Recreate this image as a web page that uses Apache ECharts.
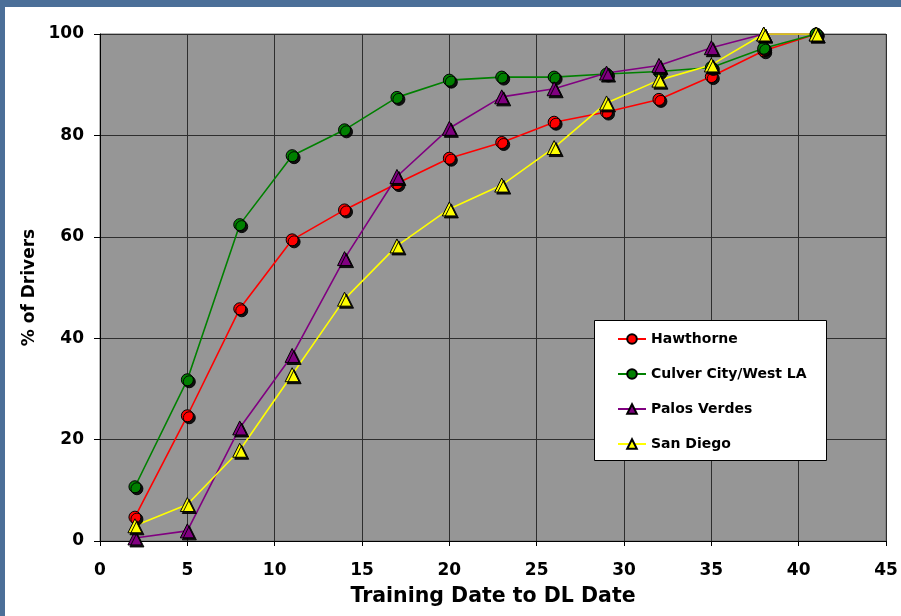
<!DOCTYPE html>
<html>
<head>
<meta charset="utf-8">
<script src="https://cdn.jsdelivr.net/npm/echarts@6/dist/echarts.min.js"></script>
<style>
  html, body { margin: 0; padding: 0; width: 901px; height: 616px; overflow: hidden; background: #4b6f98; }
  #chart { position: absolute; left: 5px; top: 7px; width: 896px; height: 609px; background: #ffffff; }
</style>
</head>
<body>
<div id="chart"></div>
<script>
// Days from training date to driver licence date
const days = [2, 5, 8, 11, 14, 17, 20, 23, 26, 29, 32, 35, 38, 41];

// Cumulative percentage of drivers, by site
const hawthorne  = [4.7, 24.7, 45.8, 59.4, 65.3, 70.5, 75.5, 78.6, 82.6, 84.6, 87.1, 91.6, 96.7, 100];
const culverCity = [10.7, 31.8, 62.4, 76.0, 81.1, 87.5, 90.9, 91.5, 91.5, 92.1, 92.6, 93.4, 97.2, 100];
const palosVerdes = [0.6, 2.0, 22.3, 36.6, 55.7, 71.9, 81.4, 87.6, 89.2, 92.3, 93.8, 97.3, 100, 100];
const sanDiego   = [3.0, 7.2, 17.9, 32.8, 47.7, 58.2, 65.5, 70.2, 77.6, 86.4, 90.9, 93.9, 100, 100];

const xTicks = { min: 0, max: 45, interval: 5 };
const yTicks = { min: 0, max: 100, interval: 20 };

const pairs = v => days.map((d, i) => [d, v[i]]);

const font = 'DejaVu Sans, Verdana, sans-serif';

function lineSeries(name, values, color, symbol, size) {
  return {
    name: name,
    type: 'line',
    data: pairs(values),
    symbol: symbol,
    symbolSize: size,
    lineStyle: { color: color, width: 1.6 },
    itemStyle: {
      color: color,
      borderColor: '#000000',
      borderWidth: 1,
      shadowColor: 'rgba(0,0,0,0.9)',
      shadowOffsetX: 2,
      shadowOffsetY: 2,
      shadowBlur: 0
    },
    emphasis: { disabled: true },
    animation: false
  };
}

const chart = echarts.init(document.getElementById('chart'));
chart.setOption({
  animation: false,
  grid: { left: 95, top: 27, right: 15, bottom: 75, show: true, backgroundColor: '#969696', borderColor: '#6e6e6e', borderWidth: 1 },
  xAxis: {
    type: 'value',
    min: xTicks.min, max: xTicks.max, interval: xTicks.interval,
    name: 'Training Date to DL Date',
    nameLocation: 'middle',
    nameGap: 45,
    nameTextStyle: { fontFamily: font, fontWeight: 'bold', fontSize: 20.5, color: '#000' },
    axisLine: { show: true, onZero: false, lineStyle: { color: '#000', width: 1 } },
    axisTick: { show: true, length: 5, lineStyle: { color: '#000' } },
    axisLabel: { fontFamily: font, fontWeight: 'bold', fontSize: 17, color: '#000', margin: 21 },
    splitLine: { show: true, lineStyle: { color: '#2e2e2e', width: 1 } }
  },
  yAxis: {
    type: 'value',
    min: yTicks.min, max: yTicks.max, interval: yTicks.interval,
    name: '% of Drivers',
    nameLocation: 'middle',
    nameGap: 60,
    nameTextStyle: { fontFamily: font, fontWeight: 'bold', fontSize: 17, color: '#000' },
    axisLine: { show: true, lineStyle: { color: '#000', width: 1 } },
    axisTick: { show: true, length: 6, lineStyle: { color: '#000' } },
    axisLabel: { fontFamily: font, fontWeight: 'bold', fontSize: 17, color: '#000', margin: 16 },
    splitLine: { show: true, lineStyle: { color: '#2e2e2e', width: 1 } }
  },
  graphic: [{
    type: 'rect',
    left: 589, top: 313,
    shape: { width: 232, height: 140 },
    style: { fill: '#ffffff', stroke: '#000000', lineWidth: 1 },
    z: 10
  }],
  legend: {
    orient: 'vertical',
    left: 612, top: 325,
    padding: 0,
    itemWidth: 28, itemHeight: 12,
    itemGap: 21,
    z: 20,
    textStyle: { fontFamily: font, fontWeight: 'bold', fontSize: 14, lineHeight: 14, color: '#000' },
    data: ['Hawthorne', 'Culver City/West LA', 'Palos Verdes', 'San Diego']
  },
  series: [
    lineSeries('Hawthorne', hawthorne, '#ff0000', 'circle', 12),
    lineSeries('Culver City/West LA', culverCity, '#008000', 'circle', 12),
    lineSeries('Palos Verdes', palosVerdes, '#800080', 'triangle', 14),
    lineSeries('San Diego', sanDiego, '#ffff00', 'triangle', 14)
  ]
});
</script>
</body>
</html>
